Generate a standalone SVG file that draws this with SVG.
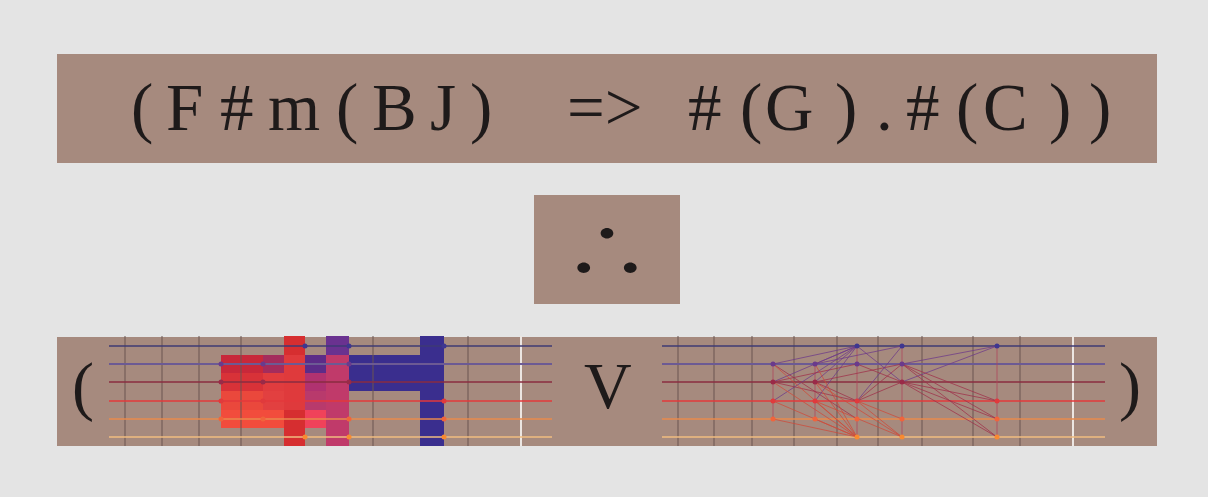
<svg xmlns="http://www.w3.org/2000/svg" width="1208" height="497" viewBox="0 0 1208 497">
<style>
.panel{fill:#a68a7e}
.t{font-family:"Liberation Serif","Times New Roman",serif;fill:#1e1a1a}
.fret{stroke:#6a5550;stroke-width:1}
.fretw{stroke:#ece6e2;stroke-width:2}
.s1{stroke:#3e3a74;stroke-width:1.5}
.s2{stroke:#6c5a94;stroke-width:2}
.s3{stroke:#8a2c40;stroke-width:1.3}
.s4{stroke:#e3393b;stroke-width:1.3}
.s5{stroke:#e88a4c;stroke-width:1.3}
.s6{stroke:#f0bc80;stroke-width:1.3}
.d1{fill:#3e3690}.d2{fill:#6a3a8c}.d3{fill:#9a2a48}.d4{fill:#e03a3c}.d5{fill:#f0643c}.d6{fill:#f88a30}
.lp{stroke:#6e3a8a;stroke-width:1;opacity:.75}
.lm{stroke:#a0304a;stroke-width:1;opacity:.75}
.lo{stroke:#d04a3a;stroke-width:1;opacity:.75}
.lv{stroke:#b0445a;stroke-width:1;opacity:.75}
</style>
<rect width="1208" height="497" fill="#e4e4e4"/>

<g id="formula">
<rect class="panel" x="57" y="54" width="1100" height="109"/>
<text class="t" y="130" font-size="67"><tspan x="131">(</tspan><tspan x="166">F</tspan><tspan x="220">#</tspan><tspan x="268">m</tspan><tspan x="336">(</tspan><tspan x="372">B</tspan><tspan x="430">J</tspan><tspan x="470">)</tspan><tspan x="567">=&gt;</tspan><tspan x="688">#</tspan><tspan x="740">(</tspan><tspan x="765">G</tspan><tspan x="835">)</tspan><tspan x="876">.</tspan><tspan x="906">#</tspan><tspan x="956">(</tspan><tspan x="983">C</tspan><tspan x="1049">)</tspan><tspan x="1089">)</tspan></text>
</g>

<g id="therefore">
<rect class="panel" x="534" y="195" width="146" height="109"/>
<text transform="translate(607,277) scale(1.1,0.9)" x="0" y="0" font-size="80" text-anchor="middle" fill="#1e1a1a" font-family="'Noto Sans CJK JP', sans-serif">∴</text>
</g>

<g id="bottom">
<rect class="panel" x="57" y="337" width="1100" height="109"/>
<text class="t" x="72" y="408" font-size="66">(</text>
<text class="t" x="584" y="408" font-size="66">V</text>
<text class="t" x="1119" y="408" font-size="66">)</text>
</g>

<g id="left-board">
<g id="left-blocks">
<rect x="221" y="355" width="42" height="18" fill="#c8283a"/>
<rect x="263" y="355" width="21" height="18" fill="#a42c5c"/>
<rect x="221" y="373" width="42" height="18" fill="#d83238"/>
<rect x="263" y="373" width="21" height="18" fill="#e03c3e"/>
<rect x="221" y="391" width="42" height="19" fill="#ea483c"/>
<rect x="263" y="391" width="21" height="19" fill="#e24040"/>
<rect x="221" y="410" width="63" height="18" fill="#f24c3c"/>
<rect x="284" y="336" width="21" height="110" fill="#d62e30"/>
<rect x="284" y="355" width="21" height="55" fill="#df3a3c"/>
<rect x="305" y="355" width="21" height="18" fill="#5c2c88"/>
<rect x="305" y="373" width="21" height="18" fill="#b03270"/>
<rect x="305" y="391" width="21" height="19" fill="#b83a6c"/>
<rect x="305" y="410" width="21" height="18" fill="#f0425a"/>
<rect x="326" y="336" width="23" height="110" fill="#c03a6a"/>
<rect x="326" y="336" width="23" height="19" fill="#6a3290"/>
<rect x="349" y="355" width="72" height="36" fill="#3a2e8e"/>
<rect x="420" y="336" width="24" height="110" fill="#3a2e8e"/>
</g>
<g id="left-grid">
<line class="fret" x1="125" y1="336" x2="125" y2="446"/>
<line class="fret" x1="162" y1="336" x2="162" y2="446"/>
<line class="fret" x1="199" y1="336" x2="199" y2="446"/>
<line class="fret" x1="241" y1="336" x2="241" y2="446"/>
<line class="fret" x1="373" y1="336" x2="373" y2="446"/>
<line class="fret" x1="468" y1="336" x2="468" y2="446"/>
<line class="fretw" x1="521" y1="336" x2="521" y2="446"/>
<line class="s1" x1="109" y1="346" x2="552" y2="346"/>
<line class="s2" x1="109" y1="364" x2="552" y2="364"/>
<line class="s3" x1="109" y1="382" x2="552" y2="382"/>
<line class="s4" x1="109" y1="401" x2="552" y2="401"/>
<line class="s5" x1="109" y1="419" x2="552" y2="419"/>
<line class="s6" x1="109" y1="437" x2="552" y2="437"/>
</g>
<g id="left-dots">
<circle class="d2" cx="221" cy="364" r="2.5"/><circle class="d3" cx="221" cy="382" r="2.5"/><circle class="d4" cx="221" cy="401" r="2.5"/><circle class="d5" cx="221" cy="419" r="2.5"/>
<circle class="d2" cx="263" cy="364" r="2.5"/><circle class="d3" cx="263" cy="382" r="2.5"/><circle class="d4" cx="263" cy="401" r="2.5"/><circle class="d5" cx="263" cy="419" r="2.5"/>
<circle class="d1" cx="305" cy="346" r="2.5"/><circle class="d6" cx="305" cy="437" r="2.5"/>
<circle class="d1" cx="349" cy="346" r="2.5"/><circle class="d2" cx="349" cy="364" r="2.5"/><circle class="d3" cx="349" cy="382" r="2.5"/><circle class="d5" cx="349" cy="419" r="2.5"/><circle class="d6" cx="349" cy="437" r="2.5"/>
<circle class="d1" cx="444" cy="346" r="2.5"/><circle class="d4" cx="444" cy="401" r="2.5"/><circle class="d5" cx="444" cy="419" r="2.5"/><circle class="d6" cx="444" cy="437" r="2.5"/>
</g>
</g>

<g id="right-board">
<g id="right-grid">
<line class="fret" x1="678" y1="336" x2="678" y2="446"/>
<line class="fret" x1="714" y1="336" x2="714" y2="446"/>
<line class="fret" x1="752" y1="336" x2="752" y2="446"/>
<line class="fret" x1="794" y1="336" x2="794" y2="446"/>
<line class="fret" x1="837" y1="336" x2="837" y2="446"/>
<line class="fret" x1="878" y1="336" x2="878" y2="446"/>
<line class="fret" x1="922" y1="336" x2="922" y2="446"/>
<line class="fret" x1="973" y1="336" x2="973" y2="446"/>
<line class="fret" x1="1020" y1="336" x2="1020" y2="446"/>
<line class="fretw" x1="1073" y1="336" x2="1073" y2="446"/>
<line class="s1" x1="662" y1="346" x2="1105" y2="346"/>
<line class="s2" x1="662" y1="364" x2="1105" y2="364"/>
<line class="s3" x1="662" y1="382" x2="1105" y2="382"/>
<line class="s4" x1="662" y1="401" x2="1105" y2="401"/>
<line class="s5" x1="662" y1="419" x2="1105" y2="419"/>
<line class="s6" x1="662" y1="437" x2="1105" y2="437"/>
</g>
<g id="connectors">
<line class="lv" x1="773" y1="364" x2="773" y2="419"/>
<line class="lv" x1="815" y1="364" x2="815" y2="419"/>
<line class="lv" x1="857" y1="346" x2="857" y2="437"/>
<line class="lv" x1="902" y1="346" x2="902" y2="437"/>
<line class="lv" x1="997" y1="346" x2="997" y2="437"/>
<line class="lp" x1="773" y1="364" x2="857" y2="346"/>
<line class="lp" x1="773" y1="382" x2="857" y2="346"/>
<line class="lp" x1="773" y1="401" x2="857" y2="346"/>
<line class="lm" x1="773" y1="382" x2="857" y2="364"/>
<line class="lm" x1="773" y1="382" x2="857" y2="401"/>
<line class="lm" x1="773" y1="364" x2="857" y2="419"/>
<line class="lo" x1="773" y1="364" x2="857" y2="437"/>
<line class="lo" x1="773" y1="382" x2="857" y2="437"/>
<line class="lo" x1="773" y1="401" x2="857" y2="437"/>
<line class="lo" x1="773" y1="419" x2="857" y2="437"/>
<line class="lp" x1="815" y1="364" x2="857" y2="346"/>
<line class="lp" x1="815" y1="382" x2="857" y2="346"/>
<line class="lp" x1="815" y1="401" x2="857" y2="346"/>
<line class="lp" x1="815" y1="364" x2="902" y2="346"/>
<line class="lm" x1="815" y1="382" x2="857" y2="401"/>
<line class="lm" x1="815" y1="382" x2="902" y2="364"/>
<line class="lo" x1="815" y1="364" x2="857" y2="437"/>
<line class="lo" x1="815" y1="382" x2="857" y2="437"/>
<line class="lo" x1="815" y1="401" x2="857" y2="437"/>
<line class="lo" x1="815" y1="419" x2="857" y2="437"/>
<line class="lo" x1="815" y1="382" x2="902" y2="437"/>
<line class="lo" x1="815" y1="401" x2="902" y2="437"/>
<line class="lp" x1="857" y1="401" x2="902" y2="346"/>
<line class="lm" x1="857" y1="401" x2="902" y2="364"/>
<line class="lm" x1="857" y1="401" x2="902" y2="382"/>
<line class="lo" x1="857" y1="401" x2="902" y2="419"/>
<line class="lo" x1="857" y1="401" x2="902" y2="437"/>
<line class="lp" x1="857" y1="346" x2="902" y2="382"/>
<line class="lm" x1="857" y1="364" x2="902" y2="382"/>
<line class="lp" x1="902" y1="364" x2="997" y2="346"/>
<line class="lp" x1="902" y1="382" x2="997" y2="346"/>
<line class="lm" x1="902" y1="364" x2="997" y2="401"/>
<line class="lm" x1="902" y1="364" x2="997" y2="419"/>
<line class="lm" x1="902" y1="364" x2="997" y2="437"/>
<line class="lm" x1="902" y1="382" x2="997" y2="401"/>
<line class="lm" x1="902" y1="382" x2="997" y2="419"/>
<line class="lm" x1="902" y1="382" x2="997" y2="437"/>
</g>
<g id="right-dots">
<circle class="d2" cx="773" cy="364" r="2.5"/><circle class="d3" cx="773" cy="382" r="2.5"/><circle class="d4" cx="773" cy="401" r="2.5"/><circle class="d5" cx="773" cy="419" r="2.5"/>
<circle class="d2" cx="815" cy="364" r="2.5"/><circle class="d3" cx="815" cy="382" r="2.5"/><circle class="d4" cx="815" cy="401" r="2.5"/><circle class="d5" cx="815" cy="419" r="2.5"/>
<circle class="d1" cx="857" cy="346" r="2.5"/><circle class="d2" cx="857" cy="364" r="2.5"/><circle class="d4" cx="857" cy="401" r="2.5"/><circle class="d5" cx="857" cy="419" r="2.5"/><circle class="d6" cx="857" cy="437" r="2.5"/>
<circle class="d1" cx="902" cy="346" r="2.5"/><circle class="d2" cx="902" cy="364" r="2.5"/><circle class="d3" cx="902" cy="382" r="2.5"/><circle class="d5" cx="902" cy="419" r="2.5"/><circle class="d6" cx="902" cy="437" r="2.5"/>
<circle class="d1" cx="997" cy="346" r="2.5"/><circle class="d4" cx="997" cy="401" r="2.5"/><circle class="d5" cx="997" cy="419" r="2.5"/><circle class="d6" cx="997" cy="437" r="2.5"/>
</g>
</g>
</svg>
